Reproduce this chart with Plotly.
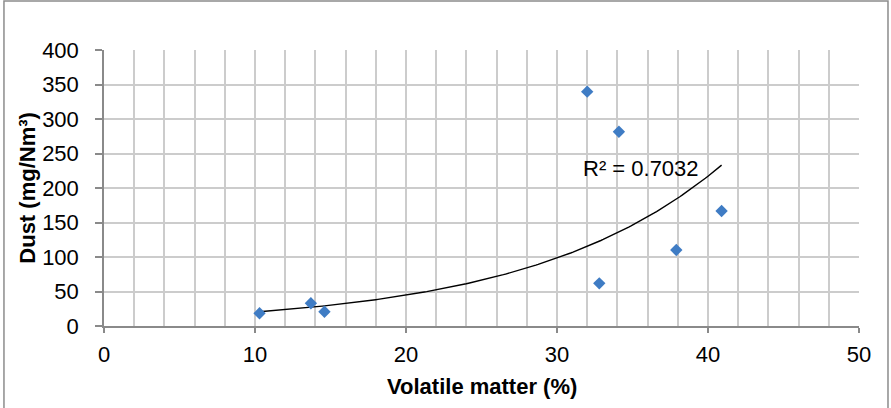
import numpy as np
import plotly.graph_objects as go

volatile_matter = [10.3, 13.7, 14.6, 32.0, 34.1, 32.8, 37.9, 40.9]
dust = [18.4, 32.9, 20.7, 339.6, 281.6, 61.8, 110.1, 166.7]
r2_label = "R² = 0.7032"
x_title = "Volatile matter (%)"
y_title = "Dust (mg/Nm³)"

# exponential trendline (least squares on ln y, as in Excel)
xa = np.array(volatile_matter)
ya = np.array(dust)
b, lna = np.polyfit(xa, np.log(ya), 1)
xt = np.linspace(xa.min(), xa.max(), 200)
yt = np.exp(lna) * np.exp(b * xt)

FONT = "Arial, Liberation Sans, sans-serif"
GRID = "#cccccc"
AXIS = "#8a8a8a"

fig = go.Figure()
fig.add_trace(go.Scatter(x=xt, y=yt, mode="lines",
                         line=dict(color="black", width=1.4),
                         hoverinfo="skip", showlegend=False))
fig.add_trace(go.Scatter(x=volatile_matter, y=dust, mode="markers",
                         marker=dict(symbol="diamond", size=9.5, color="#3F7CC4",
                                     line=dict(width=0)),
                         showlegend=False))

fig.update_layout(
    width=891, height=408,
    margin=dict(l=104, r=32, t=50, b=82, autoexpand=False),
    paper_bgcolor="white", plot_bgcolor="white",
    font=dict(family=FONT, size=22, color="black"),
    xaxis=dict(range=[0, 50], dtick=10, tick0=0, showgrid=True, gridcolor=GRID,
               gridwidth=1.5,
               minor=dict(dtick=2, tick0=0, showgrid=True, gridcolor=GRID, gridwidth=1.5),
               showline=True, linecolor=AXIS, linewidth=1.5,
               ticks="outside", ticklen=5, tickcolor=AXIS, tickwidth=1.5,
               ticklabelstandoff=3,
               zeroline=False, tickfont=dict(size=22), fixedrange=True),
    yaxis=dict(range=[0, 400], dtick=50, tick0=0, showgrid=True, gridcolor=GRID,
               gridwidth=1.5,
               showline=True, linecolor=AXIS, linewidth=1.5,
               ticks="outside", ticklen=7, tickcolor=AXIS, tickwidth=1.5,
               ticklabelstandoff=12,
               zeroline=False, tickfont=dict(size=22), fixedrange=True),
    shapes=[dict(type="rect", xref="paper", yref="paper",
                 x0=-0.1325, x1=1.0384, y0=-0.33, y1=1.1775,
                 line=dict(color="#8c8c8c", width=1.5), layer="below")],
    annotations=[
        dict(text="<b>" + x_title + "</b>", xref="paper", yref="paper", x=0.5, y=-0.2174,
             showarrow=False, font=dict(size=22, family=FONT), xanchor="center",
             yanchor="middle"),
        dict(text="<b>" + y_title + "</b>", xref="paper", yref="paper", x=-0.1024, y=0.5,
             textangle=-90, showarrow=False, font=dict(size=22, family=FONT),
             xanchor="center", yanchor="middle"),
        dict(text=r2_label, xref="x", yref="y", x=35.56, y=228,
             showarrow=False, font=dict(size=22, family=FONT),
             xanchor="center", yanchor="middle"),
    ],
)

fig.write_html("out.html", config={"displayModeBar": False},
               post_script="document.body.style.margin='0';")
